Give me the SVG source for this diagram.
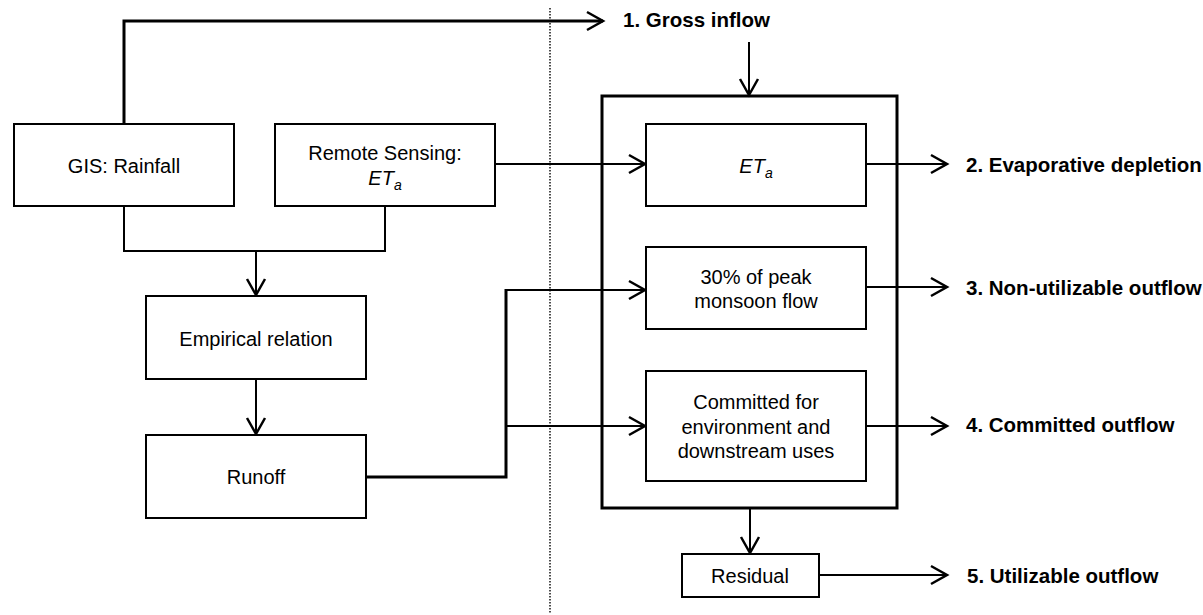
<svg xmlns="http://www.w3.org/2000/svg" width="1203" height="615" viewBox="0 0 1203 615">
  <style>
    .box { fill: #ffffff; stroke: #000000; stroke-width: 2; }
    .frame { fill: none; stroke: #000000; stroke-width: 3; }
    .txt { font-family: "Liberation Sans", Arial, sans-serif; font-size: 20px; fill: #000000; text-anchor: middle; }
    .lbl { font-family: "Liberation Sans", Arial, sans-serif; font-size: 20.5px; font-weight: bold; fill: #000000; }
    .it { font-style: italic; }
    .sub { font-size: 14px; font-style: italic; }
    .thin { fill: none; stroke: #000000; stroke-width: 2; }
    .thick { fill: none; stroke: #000000; stroke-width: 3; }
    .divider { fill: none; stroke: #000000; stroke-width: 1.4; stroke-dasharray: 1.5 1.5; }
  </style>
  <defs>
    <marker id="arrow" markerUnits="userSpaceOnUse" markerWidth="24" markerHeight="24" viewBox="-20 -12 24 24" refX="0" refY="0" orient="auto">
      <path d="M-16,-9 L0,0 L-16,9" fill="none" stroke="#000000" stroke-width="2.5"/>
    </marker>
  </defs>

  <!-- divider between data sources and water accounting -->
  <line class="divider" x1="550" y1="8" x2="550" y2="613"/>

  <!-- outer accounting frame -->
  <g id="frame">
    <rect class="frame" x="602" y="96" width="295" height="412"/>
  </g>

  <g id="connectors">
    <!-- rainfall to gross inflow -->
    <path class="thick" d="M124,124 V21 H603" marker-end="url(#arrow)"/>
    <!-- gross inflow into frame -->
    <path class="thin" d="M749,42 V95" marker-end="url(#arrow)"/>
    <!-- rainfall + ETa to empirical relation -->
    <path class="thin" d="M124,206 V251 H385 V206"/>
    <path class="thin" d="M256,251 V295" marker-end="url(#arrow)"/>
    <!-- empirical relation to runoff -->
    <path class="thin" d="M256,379 V434" marker-end="url(#arrow)"/>
    <!-- remote sensing ETa into frame -->
    <path class="thin" d="M495,164 H645" marker-end="url(#arrow)"/>
    <!-- runoff split -->
    <path class="thick" d="M366,477 H506 V289"/>
    <path class="thin" d="M505,290 H645" marker-end="url(#arrow)"/>
    <path class="thin" d="M506,426 H645" marker-end="url(#arrow)"/>
    <!-- outflows -->
    <path class="thin" d="M866,164 H947" marker-end="url(#arrow)"/>
    <path class="thin" d="M866,287 H947" marker-end="url(#arrow)"/>
    <path class="thin" d="M866,426 H947" marker-end="url(#arrow)"/>
    <path class="thin" d="M750,508 V553" marker-end="url(#arrow)"/>
    <path class="thin" d="M819,575 H947" marker-end="url(#arrow)"/>
  </g>

  <g id="gis-rainfall">
    <rect class="box" x="14" y="124" width="220" height="82"/>
    <text class="txt" x="124" y="173">GIS: Rainfall</text>
  </g>

  <g id="remote-sensing">
    <rect class="box" x="275" y="124" width="220" height="82"/>
    <text class="txt" x="385" y="160">Remote Sensing:</text>
    <text class="txt" x="385" y="185"><tspan class="it">ET</tspan><tspan class="sub" dy="5">a</tspan></text>
  </g>

  <g id="empirical-relation">
    <rect class="box" x="146" y="296" width="220" height="83"/>
    <text class="txt" x="256" y="346">Empirical relation</text>
  </g>

  <g id="runoff">
    <rect class="box" x="146" y="435" width="220" height="83"/>
    <text class="txt" x="256" y="484">Runoff</text>
  </g>

  <g id="eta">
    <rect class="box" x="646" y="124" width="220" height="82"/>
    <text class="txt" x="756" y="173"><tspan class="it">ET</tspan><tspan class="sub" dy="5">a</tspan></text>
  </g>

  <g id="peak-monsoon">
    <rect class="box" x="646" y="247" width="220" height="82"/>
    <text class="txt" x="756" y="284">30% of peak</text>
    <text class="txt" x="756" y="308">monsoon flow</text>
  </g>

  <g id="committed">
    <rect class="box" x="646" y="371" width="220" height="110"/>
    <text class="txt" x="756" y="409">Committed for</text>
    <text class="txt" x="756" y="434">environment and</text>
    <text class="txt" x="756" y="458">downstream uses</text>
  </g>

  <g id="residual">
    <rect class="box" x="682" y="554" width="137" height="43"/>
    <text class="txt" x="750" y="583">Residual</text>
  </g>

  <g id="labels">
    <text class="lbl" x="623" y="27">1. Gross inflow</text>
    <text class="lbl" x="966" y="172">2. Evaporative depletion</text>
    <text class="lbl" x="966" y="295">3. Non-utilizable outflow</text>
    <text class="lbl" x="966" y="432">4. Committed outflow</text>
    <text class="lbl" x="967" y="583">5. Utilizable outflow</text>
  </g>
</svg>
